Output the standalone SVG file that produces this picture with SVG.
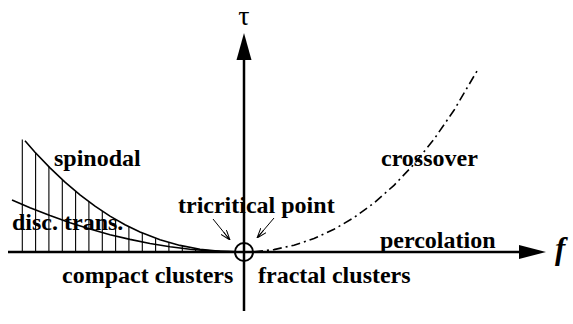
<svg xmlns="http://www.w3.org/2000/svg" width="573" height="324" viewBox="0 0 573 324">
<style>
.lbl{font-family:"Liberation Serif","Tinos","Times New Roman","DejaVu Serif",serif;font-weight:bold;font-size:24px;fill:#000}
.ax{stroke:#000;stroke-width:2.5;fill:none}
.crv{stroke:#000;stroke-width:1.6;fill:none}
.hatch{stroke:#000;stroke-width:1.1;fill:none}
.thin{stroke:#000;stroke-width:1;fill:none}
</style>
<defs>
<marker id="open" viewBox="0 0 10 8" refX="10" refY="4" markerWidth="10" markerHeight="8" markerUnits="userSpaceOnUse" orient="auto">
<path d="M0,0.5 L10,4 L0,7.5 M0,4 L10,4" stroke="#000" stroke-width="1" fill="none"/>
</marker>
</defs>
<rect width="573" height="324" fill="#fff"/>
<g id="connectors">
<line class="ax" x1="8" y1="252" x2="522" y2="252"/>
<polygon points="546,252 519,245 519,259" fill="#000"/>
<line class="ax" x1="244" y1="311" x2="244" y2="58"/>
<polygon points="244,33 236.5,60 251.5,60" fill="#000"/>
<path id="spinodal-curve" class="crv" d="M25,140.8 L35,152.2 L50,167.9 L65,182.1 L80,194.8 L95,206.2 L110,216.1 L125,224.7 L140,231.9 L160,239.7 L180,245.4 L200,249.2 L220,251.3 L244,252"/>
<path id="disc-curve" class="crv" d="M12,200 L30,207.8 L50,215.6 L70,222.8 L90,229.1 L110,234.7 L130,239.4 L150,243.5 L170,246.7 L190,249.2 L210,250.9 L244,252"/>
<g id="hatching" class="hatch">
<line x1="22.3" y1="252" x2="22.3" y2="139.5"/>
<line x1="35.6" y1="252" x2="35.6" y2="152.8"/>
<line x1="48.9" y1="252" x2="48.9" y2="166.8"/>
<line x1="62.3" y1="252" x2="62.3" y2="179.7"/>
<line x1="75.6" y1="252" x2="75.6" y2="191.2"/>
<line x1="88.9" y1="252" x2="88.9" y2="201.7"/>
<line x1="102.3" y1="252" x2="102.3" y2="211.1"/>
<line x1="115.6" y1="252" x2="115.6" y2="219.4"/>
<line x1="128.9" y1="252" x2="128.9" y2="226.7"/>
<line x1="142.3" y1="252" x2="142.3" y2="232.9"/>
<line x1="155.6" y1="252" x2="155.6" y2="238.2"/>
<line x1="168.9" y1="252" x2="168.9" y2="242.5"/>
<line x1="182.3" y1="252" x2="182.3" y2="246"/>
<line x1="195.6" y1="252" x2="195.6" y2="248.5"/>
<line x1="208.9" y1="252" x2="208.9" y2="250.3"/>
</g>
<path id="crossover-curve" class="crv" stroke-dasharray="9,4,2,4" d="M254,251.7 L274,249.6 L294,245.2 L314,238.5 L334,229.3 L354,217.6 L374,203 L394,185.3 L414,164.2 L434,139.3 L454,110.2 L477,71"/>
<circle cx="244" cy="252" r="9" fill="none" stroke="#000" stroke-width="2"/>
<line class="thin" x1="213" y1="219" x2="230" y2="240" marker-end="url(#open)"/>
<line class="thin" x1="274" y1="218" x2="257" y2="238" marker-end="url(#open)"/>
</g>
<g id="tau"><text x="244" y="25" text-anchor="middle" style="font-family:'Liberation Serif','DejaVu Serif',serif;font-size:28px">τ</text></g>
<g id="f"><text x="555" y="259" style="font-family:'Liberation Serif','DejaVu Serif',serif;font-weight:bold;font-style:italic;font-size:31px">f</text></g>
<g id="spinodal"><text class="lbl" x="54" y="166">spinodal</text></g>
<g id="disc-trans"><text class="lbl" x="12" y="230">disc. trans.</text></g>
<g id="tricritical-point"><text class="lbl" x="178" y="213">tricritical point</text></g>
<g id="crossover"><text class="lbl" x="381" y="166">crossover</text></g>
<g id="percolation"><text class="lbl" x="380" y="248">percolation</text></g>
<g id="compact-clusters"><text class="lbl" x="62" y="283">compact clusters</text></g>
<g id="fractal-clusters"><text class="lbl" x="258" y="283">fractal clusters</text></g>
</svg>
